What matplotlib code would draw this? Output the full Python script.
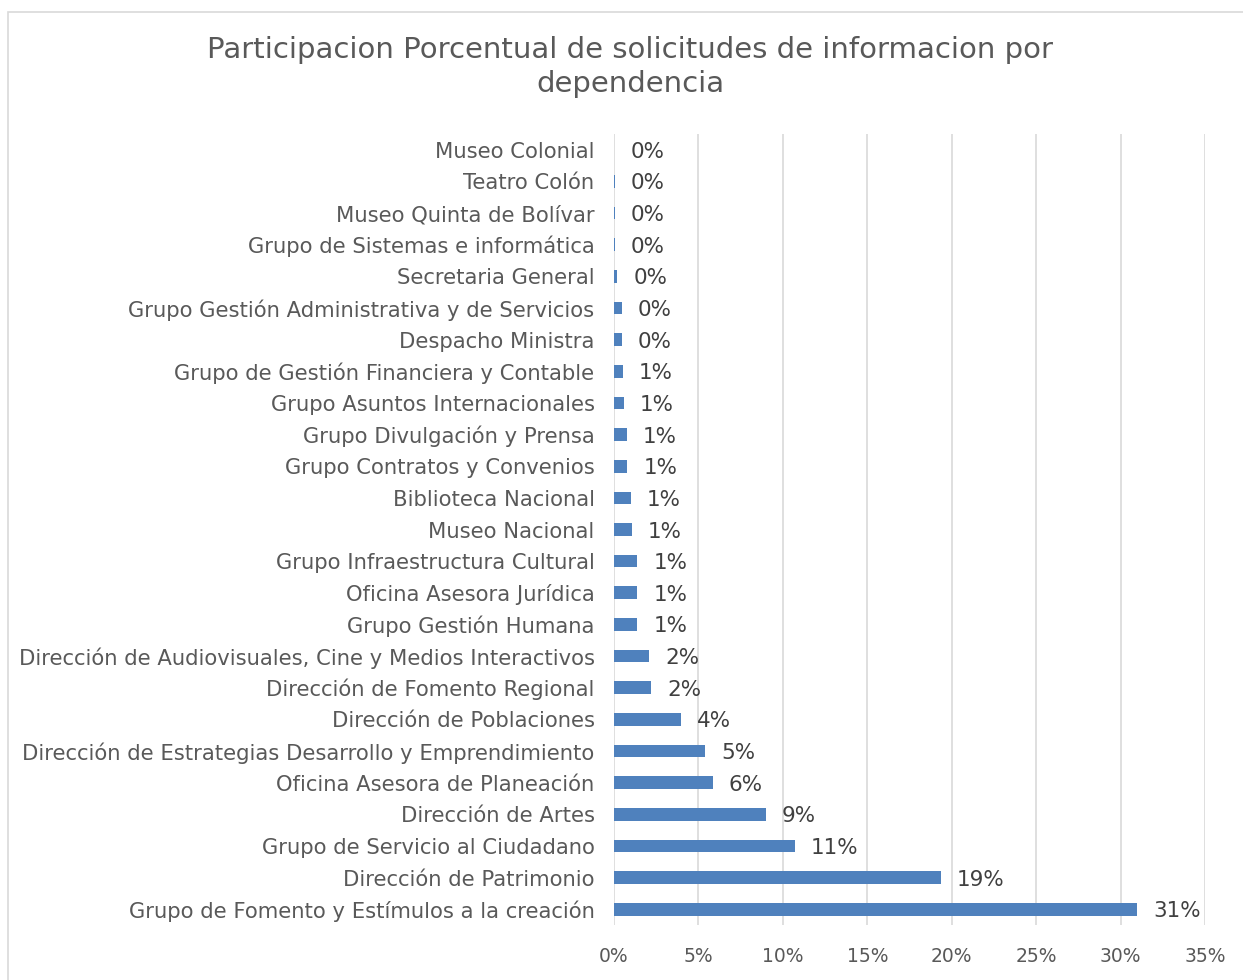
import numpy as np
import matplotlib.pyplot as plt
from matplotlib.patches import Rectangle
import matplotlib.ticker as mticker

plt.rcParams['font.family'] = ['DejaVu Sans']

# categories bottom -> top, as drawn
dependencias = [
    'Grupo de Fomento y Estímulos a la creación',
    'Dirección de Patrimonio',
    'Grupo de Servicio al Ciudadano',
    'Dirección de Artes',
    'Oficina Asesora de Planeación',
    'Dirección de Estrategias Desarrollo y Emprendimiento',
    'Dirección de Poblaciones',
    'Dirección de Fomento Regional',
    'Dirección de Audiovisuales, Cine y Medios Interactivos',
    'Grupo Gestión Humana',
    'Oficina Asesora Jurídica',
    'Grupo Infraestructura Cultural',
    'Museo Nacional',
    'Biblioteca Nacional',
    'Grupo Contratos y Convenios',
    'Grupo Divulgación y Prensa',
    'Grupo Asuntos Internacionales',
    'Grupo de Gestión Financiera y Contable',
    'Despacho Ministra',
    'Grupo Gestión Administrativa y de Servicios',
    'Secretaria General',
    'Grupo de Sistemas e informática',
    'Museo Quinta de Bolívar',
    'Teatro Colón',
    'Museo Colonial',
]
porcentaje = [30.97, 19.37, 10.70, 9.00, 5.86, 5.41, 3.98, 2.19, 2.07,
              1.38, 1.38, 1.38, 1.07, 1.00, 0.79, 0.75, 0.59, 0.52,
              0.47, 0.47, 0.20, 0.05, 0.04, 0.03, 0.02]

fig = plt.figure(figsize=(12.43, 9.8), dpi=100)
fig.patches.append(Rectangle((8/1243, -0.01), 1.0, 1.01 - 12/980, transform=fig.transFigure,
                             fill=False, edgecolor='#d9d9d9', linewidth=1.2))

ax = fig.add_axes([614/1243, 1 - 925/980, (1205 - 614)/1243, (925 - 134)/980])
y = np.arange(len(dependencias))
ax.barh(y, porcentaje, height=0.4, color='#4f81bd', zorder=3)
ax.set_xlim(0, 35)
ax.set_ylim(-0.5, len(dependencias) - 0.5)
ax.xaxis.set_major_locator(mticker.MultipleLocator(5))
ax.xaxis.set_major_formatter(mticker.FuncFormatter(lambda v, p: f'{v:.0f}%'))
ax.grid(axis='x', color='#d9d9d9', linewidth=1.2, zorder=0)
for s in ax.spines.values():
    s.set_visible(False)
ax.tick_params(axis='both', length=0, labelcolor='#595959')
ax.tick_params(axis='x', pad=16, labelsize=13.5)
ax.tick_params(axis='y', pad=14, labelsize=15.2)
ax.set_yticks(y)
ax.set_yticklabels(dependencias)

for yi, v in zip(y, porcentaje):
    ax.text(v + 0.95, yi, f'{v:.0f}%', va='center_baseline', ha='left', fontsize=15.5, color='#404040')

fig.text(630/1243, 1 - 67/980, 'Participacion Porcentual de solicitudes de informacion por\ndependencia',
         ha='center', va='center', fontsize=21, color='#595959', linespacing=1.25)

fig.savefig('out.png', dpi=100)
